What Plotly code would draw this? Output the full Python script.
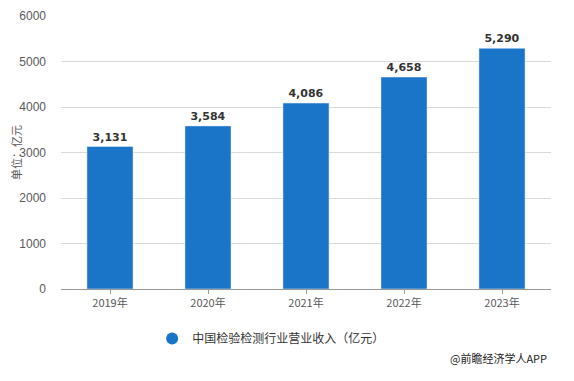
import plotly.graph_objects as go

years = ["2019年", "2020年", "2021年", "2022年", "2023年"]
revenue = [3131, 3584, 4086, 4658, 5290]
labels = [f"{v:,}" for v in revenue]
series_name = "中国检验检测行业营业收入（亿元）"
y_title = "单位：亿元"

blue = "#1a75c9"
font_family = "Microsoft YaHei, Noto Sans CJK SC, sans-serif"

fig = go.Figure()
fig.add_trace(go.Bar(
    x=years, y=revenue, marker_color=blue, text=labels,
    textposition="outside", textfont=dict(size=11, color="#333333", family="DejaVu Sans, sans-serif"),
    texttemplate="<b>%{text}</b>", cliponaxis=False, showlegend=False,
))
fig.add_trace(go.Scatter(
    x=[None], y=[None], mode="markers", name=series_name,
    marker=dict(symbol="circle", size=12, color=blue),
))

# page body has an 8px margin, so the figure is sized to fit the window
fig.update_layout(
    width=566, height=373,
    margin=dict(l=53, r=23, t=8, b=92, autoexpand=False),
    plot_bgcolor="white", paper_bgcolor="white",
    bargap=0.53,
    font=dict(family=font_family, size=11, color="#595959"),
    showlegend=True,
    legend=dict(orientation="h", x=0.186, xanchor="left", y=-0.128, yanchor="top",
                font=dict(size=12, color="#333333")),
    xaxis=dict(showline=True, linecolor="#999999", linewidth=1, ticks="outside",
               ticklen=4, tickcolor="#999999", tickfont=dict(size=11, color="#595959")),
    yaxis=dict(range=[0, 6000], dtick=1000, showgrid=True, gridcolor="#d9d9d9",
               zeroline=False,
               tickfont=dict(size=12, color="#595959", family="Liberation Sans, Arial, sans-serif"),
               ticklabelstandoff=14, ticklabeloverflow="allow",
               title=dict(text=y_title, standoff=6, font=dict(size=11, color="#595959"))),
)

fig.add_annotation(text="@前瞻经济学人APP", xref="paper", yref="paper",
                   x=0.995, y=-0.215, xanchor="right", yanchor="top", showarrow=False,
                   font=dict(size=11, color="#222222"))

fig.write_html("out.html")
